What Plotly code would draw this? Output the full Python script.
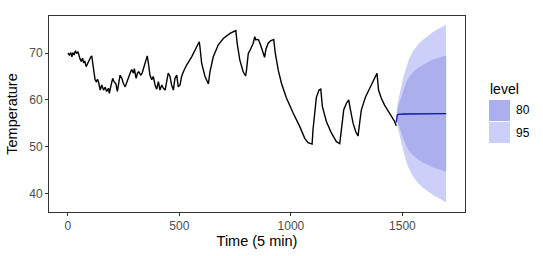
import plotly.graph_objects as go

# ---- data ----
hist_time = [0, 7, 13, 18, 22, 28, 34, 40, 45, 51, 55, 60, 66, 70, 76, 82, 88, 95, 103, 107,
             115, 122, 127, 133, 139, 145, 152, 160, 167, 174, 182, 186, 192, 201, 207, 215,
             222, 228, 234, 242, 249, 257, 264, 271, 279, 286, 294, 298, 306, 312, 318, 327,
             333, 339, 351, 356, 362, 368, 376, 383, 391, 398, 406, 413, 421, 428, 436, 443,
             450, 458, 465, 473, 480, 488, 495, 503, 510, 518, 533, 555, 585,
             589, 592, 600, 615, 630, 637, 652, 674, 697, 727, 753, 759, 771, 786, 797, 801,
             809, 819, 831, 838, 843, 849, 855, 864, 873, 882, 888, 898, 909, 918, 923, 929,
             943, 958, 980, 1010, 1040, 1062, 1077, 1089,
             1095, 1099, 1107, 1114, 1126, 1134, 1141, 1159, 1182, 1204, 1219, 1226, 1237,
             1249, 1259, 1267, 1279, 1291, 1301, 1308, 1316, 1335, 1361, 1376, 1386, 1393,
             1405, 1420, 1443, 1465, 1472]
hist_temp = [70.0, 69.6, 70.1, 69.2, 70.1, 69.6, 70.5, 69.9, 70.3, 69.2, 68.7, 68.2, 68.9, 68.0,
             68.2, 67.1, 67.8, 68.5, 69.2, 69.4,
             66.7, 64.3, 63.9, 64.4, 63.5, 62.1, 63.2, 62.1, 62.7, 61.8, 62.5, 61.4, 62.8, 64.6,
             63.9, 63.5, 61.8, 63.2, 65.3, 64.6, 63.5, 62.8, 63.9, 64.6, 65.7, 66.5, 65.7, 66.7,
             64.6, 65.7, 66.0, 65.3, 65.7, 66.7, 68.9, 69.4, 67.5, 65.3, 64.3, 65.0, 63.2, 62.3,
             63.9, 62.1, 63.2, 62.5, 62.1, 64.3, 65.7, 65.0, 63.2, 62.1, 64.6, 65.3, 62.8, 63.2,
             65.0, 66.0, 67.5, 69.2, 72.3,
             72.4, 71.4, 67.8, 65.0, 63.4, 66.0, 69.2, 71.7, 73.1, 74.2, 74.8, 72.1, 68.5, 66.0,
             65.1, 66.4, 69.9, 70.8, 72.1, 73.5, 72.8, 72.9, 72.8, 71.7, 70.3, 69.1, 70.8, 72.1,
             72.6, 72.8, 72.9, 70.3, 66.4, 63.5, 60.4, 57.2, 54.3, 51.8, 50.9, 50.7,
             50.6, 53.6, 57.9, 60.5, 62.1, 62.3, 58.6, 55.4, 52.9, 51.1, 50.7, 54.0, 57.9,
             59.3, 60.0, 57.9, 55.0, 53.2, 52.3, 55.0, 57.9, 60.7, 63.2, 64.6, 65.7, 62.1,
             60.4, 58.9, 57.2, 55.4, 54.5]

fc_time = [1472, 1474, 1477, 1481, 1487, 1495, 1505, 1517, 1530, 1547, 1570, 1592, 1615, 1637, 1665, 1696]
fc_mean = [55.2, 56.2, 56.7, 56.9, 56.95, 57.0, 57.0, 57.0, 57.0, 57.05, 57.05, 57.05, 57.1, 57.1, 57.1, 57.1]
hi95 = [55.5, 57.3, 58.7, 59.8, 60.9, 62.9, 65.0, 67.1, 68.8, 70.4, 71.8, 72.85, 73.75, 74.5, 75.3, 76.0]
lo95 = [54.9, 55.1, 54.7, 54.0, 53.0, 51.1, 49.0, 46.9, 45.2, 43.7, 42.3, 41.25, 40.45, 39.7, 38.9, 38.2]
hi80 = [55.4, 56.9, 57.9, 58.6, 59.5, 60.9, 62.4, 63.8, 64.9, 65.9, 66.8, 67.5, 68.1, 68.6, 69.05, 69.5]
lo80 = [55.0, 55.5, 55.5, 55.2, 54.4, 53.1, 51.6, 50.2, 49.1, 48.2, 47.3, 46.6, 46.1, 45.6, 45.15, 44.7]

levels = ["80", "95"]
level_colors = {"80": "#ABAFED", "95": "#CCD0F8"}

x_ticks = [0, 500, 1000, 1500]
y_ticks = [40, 50, 60, 70]

FONT = "Liberation Sans, Arial, Helvetica, sans-serif"

fig = go.Figure()

# 95% band
fig.add_trace(go.Scatter(
    x=fc_time + fc_time[::-1], y=hi95 + lo95[::-1],
    fill="toself", fillcolor=level_colors["95"], line=dict(width=0),
    mode="lines", hoverinfo="skip", showlegend=False))
# 80% band
fig.add_trace(go.Scatter(
    x=fc_time + fc_time[::-1], y=hi80 + lo80[::-1],
    fill="toself", fillcolor=level_colors["80"], line=dict(width=0),
    mode="lines", hoverinfo="skip", showlegend=False))
# history
fig.add_trace(go.Scatter(x=hist_time, y=hist_temp, mode="lines",
                         line=dict(color="black", width=1.4), showlegend=False))
# forecast mean
fig.add_trace(go.Scatter(x=fc_time, y=fc_mean, mode="lines",
                         line=dict(color="#1414A8", width=1.3), showlegend=False))

# panel geometry (pixels)
W, H = 543, 256
L, R, T, B = 49, 465, 16, 212
pw, ph = R - L, B - T


def px2paper_x(px):
    return (px - L) / pw


def px2paper_y(py):
    return (B - py) / ph


# manual ggplot-style legend
shapes = []
annotations = [dict(text="level", x=px2paper_x(488), y=px2paper_y(89), xref="paper", yref="paper",
                    xanchor="left", yanchor="middle", showarrow=False,
                    font=dict(family=FONT, size=14, color="black"))]
key_top = 100
for i, lev in enumerate(levels):
    y0 = key_top + i * 22
    shapes.append(dict(type="rect", xref="paper", yref="paper",
                       x0=px2paper_x(489), x1=px2paper_x(510),
                       y0=px2paper_y(y0 + 21), y1=px2paper_y(y0),
                       fillcolor=level_colors[lev], line=dict(width=0)))
    annotations.append(dict(text=lev, x=px2paper_x(514), y=px2paper_y(y0 + 10.5),
                            xref="paper", yref="paper", xanchor="left", yanchor="middle",
                            showarrow=False, font=dict(family=FONT, size=12, color="black")))

axis_common = dict(showgrid=False, zeroline=False, showline=True, linecolor="#333333",
                   linewidth=1, mirror=True, ticks="outside", ticklen=3, tickwidth=1,
                   automargin=False,
                   tickcolor="#333333", tickfont=dict(family=FONT, size=12, color="#4D4D4D"))

fig.update_layout(
    width=W, height=H,
    margin=dict(l=L, r=W - R, t=T, b=H - B, autoexpand=False),
    paper_bgcolor="white", plot_bgcolor="white",
    showlegend=False,
    shapes=shapes, annotations=annotations,
    xaxis=dict(range=[-84.6, 1780.6], tickvals=x_ticks, ticktext=[str(v) for v in x_ticks],
               title=dict(text="Time (5 min)", standoff=2,
                          font=dict(family=FONT, size=14.5, color="black")),
               **axis_common),
    yaxis=dict(range=[36.1, 77.9], tickvals=y_ticks, ticktext=[str(v) for v in y_ticks],
               title=dict(text="Temperature", standoff=8,
                          font=dict(family=FONT, size=14.5, color="black")),
               **axis_common),
)

fig.write_html("out.html", config={"displayModeBar": False, "staticPlot": True},
               post_script="document.body.style.margin='0';document.body.style.overflow='hidden';")
